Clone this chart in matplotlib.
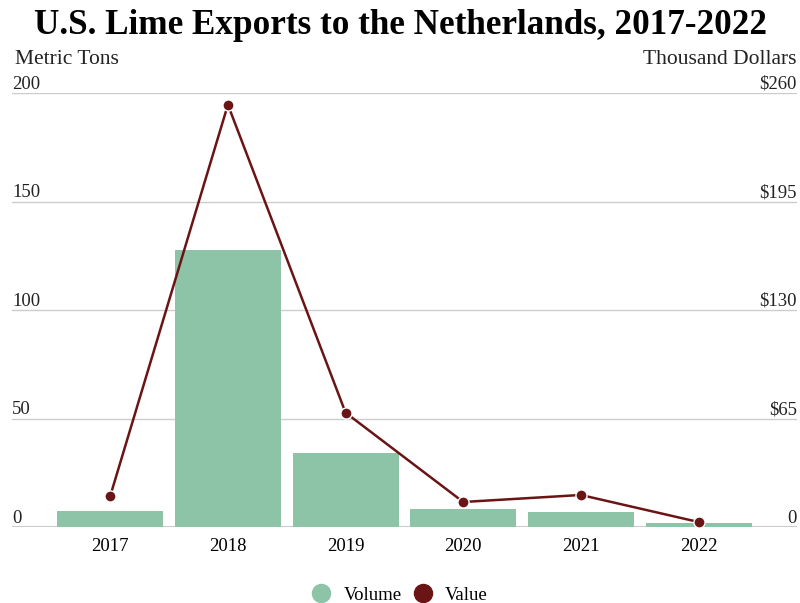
import matplotlib.pyplot as plt
from matplotlib.lines import Line2D
import matplotlib.transforms as mtransforms

years = ["2017", "2018", "2019", "2020", "2021", "2022"]
volume = [7.4, 127.5, 34.2, 8.3, 6.9, 1.8]      # metric tons
value = [18.6, 253, 68.5, 15, 19.2, 3]          # thousand dollars
left_ticks = [0, 50, 100, 150, 200]
right_ticks = [0, 65, 130, 195, 260]
right_labels = ["0", "$65", "$130", "$195", "$260"]

green = "#8dc3a7"
red = "#6b1416"
grid = "#cccccc"

plt.rcParams["font.family"] = ["Liberation Serif", "DejaVu Serif"]

fig = plt.figure(figsize=(8, 6.03), dpi=100)
ax = fig.add_axes([0.015, 0.126, 0.981, 0.7197])
x = list(range(len(years)))

ax.bar(x, volume, width=0.9, color=green, zorder=2)
ax.set_ylim(0, 200)
ax.set_xlim(-0.835, len(years) - 1 + 0.835)
ax.set_yticks(left_ticks)
ax.yaxis.grid(True, color=grid, linewidth=1, zorder=0)
ax.tick_params(axis="x", length=0, labelsize=13.5, pad=8)
ax.set_xticks(x)
ax.set_xticklabels(years)
for s in ax.spines.values():
    s.set_visible(False)
ax.axhline(0, color=grid, linewidth=1.5, zorder=1)

ax2 = ax.twinx()
ax2.set_ylim(0, 260)
ax2.plot(x, value, color=red, linewidth=1.8, marker="o", markersize=8,
         markeredgecolor="white", markeredgewidth=1, zorder=3)
ax2.tick_params(axis="y", right=False, labelright=False, left=False, labelleft=False)
ax.tick_params(axis="y", left=False, labelleft=False, right=False, labelright=False)
for s in ax2.spines.values():
    s.set_visible(False)

tl = mtransforms.blended_transform_factory(ax.transAxes, ax.transData)
for t in left_ticks:
    ax.text(0, t + 1.9, str(t), transform=tl, ha="left", va="baseline", fontsize=13.5, color="#222222")
tr = mtransforms.blended_transform_factory(ax2.transAxes, ax2.transData)
for t, lab in zip(right_ticks, right_labels):
    ax2.text(1, t + 2.5, lab, transform=tr, ha="right", va="baseline", fontsize=13.5, color="#222222")

fig.text(0.019, 0.902, "Metric Tons", ha="left", va="center", fontsize=15.5, color="#222222")
fig.text(0.996, 0.902, "Thousand Dollars", ha="right", va="center", fontsize=15.5, color="#222222")
fig.text(0.5, 0.957, "U.S. Lime Exports to the Netherlands, 2017-2022",
         ha="center", va="center", fontsize=25.3, fontweight="bold")

handles = [
    Line2D([], [], linestyle="none", marker="o", markersize=13, color=green),
    Line2D([], [], linestyle="none", marker="o", markersize=13, color=red),
]
fig.legend(handles, ["Volume", "Value"], loc="center", bbox_to_anchor=(0.5, 0.013),
           ncol=2, frameon=False, fontsize=13.5, handlelength=1.0,
           handletextpad=0.7, columnspacing=0.6)

fig.savefig("out.png", dpi=100)
